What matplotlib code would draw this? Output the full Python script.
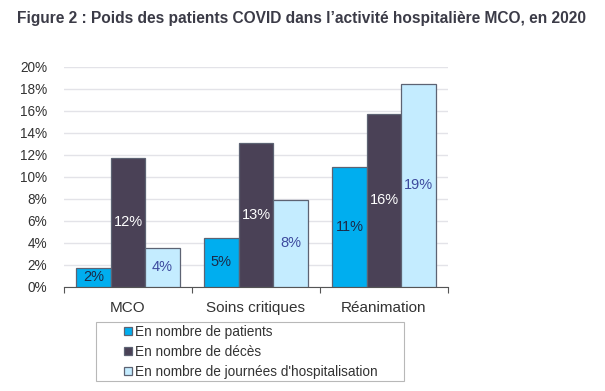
import numpy as np
import matplotlib.pyplot as plt
from matplotlib.patches import Rectangle

plt.rcParams['font.family'] = ['Liberation Sans', 'DejaVu Sans']

# Data (percent)
categories = ["MCO", "Soins critiques", "Réanimation"]
series_names = ["En nombre de patients", "En nombre de décès",
                "En nombre de journées d'hospitalisation"]
patients = [1.75, 4.5, 10.9]
deces = [11.75, 13.1, 15.75]
journees = [3.55, 7.95, 18.5]
labels_patients = ["2%", "5%", "11%"]
labels_deces = ["12%", "13%", "16%"]
labels_journees = ["4%", "8%", "19%"]

fill_colors = ["#00aeef", "#4a4156", "#c4ecff"]
text_colors = ["#1b2a48", "#ffffff", "#3d4a9e"]

fig = plt.figure(figsize=(6.05, 3.91), dpi=100)
ax = fig.add_axes([64 / 605, 1 - 287 / 391, 384 / 605, 220 / 391])

x = np.arange(len(categories))
w = 0.27
all_series = [patients, deces, journees]
all_labels = [labels_patients, labels_deces, labels_journees]
handles = []
for i, (vals, labs) in enumerate(zip(all_series, all_labels)):
    bars = ax.bar(x + (i - 1) * w, vals, w, color=fill_colors[i],
                  edgecolor="#5d6373", linewidth=0.9, zorder=3,
                  label=series_names[i])
    handles.append(bars)
    for b, v, lab in zip(bars, vals, labs):
        ax.text(b.get_x() + b.get_width() / 2, v / 2, lab,
                ha="center", va="center", fontsize=10.5,
                color=text_colors[i], zorder=4)

ax.set_xlim(-0.5, 2.5)
ax.set_ylim(0, 20)
ax.set_yticks(range(0, 21, 2))
ax.set_yticklabels([f"{t}%" for t in range(0, 21, 2)], fontsize=9.8,
                   color="#333333")
ax.yaxis.grid(True, color="#e3e3e8", linewidth=1.0, zorder=0)
ax.tick_params(axis="y", length=0, pad=12)

ax.set_xticks([-0.5, 0.5, 1.5, 2.5])
ax.set_xticklabels([])
ax.set_xticks(x, minor=True)
ax.set_xticklabels(categories, minor=True, fontsize=11, color="#333333")
ax.tick_params(axis="x", which="major", length=4, direction="out",
               color="#555555")
ax.tick_params(axis="x", which="minor", length=0, pad=10)

for s in ["top", "right", "left"]:
    ax.spines[s].set_visible(False)
ax.spines["bottom"].set_color("#555555")

fig.text(17 / 605, 1 - 18 / 391,
         "Figure 2 : Poids des patients COVID dans l\u2019activité hospitalière MCO, en 2020",
         fontsize=11.2, fontweight="bold", color="#3b3b47", va="center", ha="left")

# legend frame drawn separately, entries indented like the original
fig.patches.append(Rectangle((96 / 605, 1 - 381 / 391), 308 / 605, 59 / 391,
                             transform=fig.transFigure, facecolor="white",
                             edgecolor="#b8b8b8", linewidth=0.8))
leg = fig.legend(handles=handles, loc="upper left",
                 bbox_to_anchor=(121 / 605, 1 - 322 / 391),
                 fontsize=9.8, frameon=False,
                 handlelength=0.6, handleheight=0.6, handletextpad=0.25,
                 labelspacing=0.45, borderpad=0.2, borderaxespad=0)
for t in leg.get_texts():
    t.set_color("#333333")

fig.savefig("out.png", dpi=100)
